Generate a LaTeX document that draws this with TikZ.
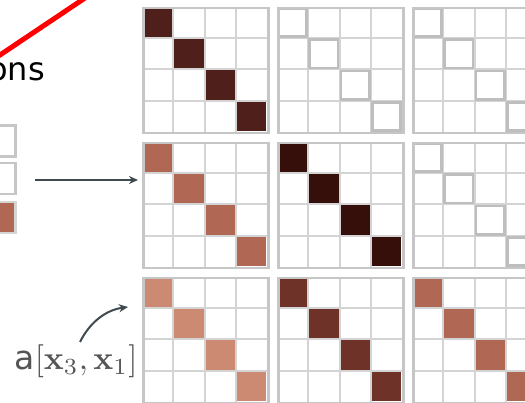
\documentclass[tikz,border=0pt]{standalone}
\usepackage[no-math]{fontspec}
\setmainfont{DejaVu Sans}
\usetikzlibrary{arrows.meta}
\definecolor{gl}{HTML}{D4D4D4}
\definecolor{gb}{HTML}{C6C6C6}
\definecolor{hb}{HTML}{BEBEBE}
\definecolor{cA}{HTML}{4F201B}
\definecolor{cB}{HTML}{B06753}
\definecolor{cC}{HTML}{360E0A}
\definecolor{cD}{HTML}{CC8A72}
\definecolor{cE}{HTML}{6E3229}
\definecolor{arr}{HTML}{3F4A4F}
\definecolor{labc}{HTML}{555555}
\tikzset{
  gridbox/.style={draw=gb, line width=2.5pt, minimum size=125pt, inner sep=0pt, anchor=north west},
  leftbox/.style={draw=gb, line width=2.5pt, minimum size=31pt, inner sep=0pt},
  gline/.style={draw=gl, line width=2pt},
  hollow/.style={draw=hb, line width=2.8pt},
  pointer/.style={draw=arr, line width=2.6pt, -{Stealth[length=9pt,width=8pt]}},
}
\begin{document}
\begin{tikzpicture}[x=1pt,y=-1pt]
\useasboundingbox (0,0) rectangle (525,403);
\clip (0,0) rectangle (525,403);
% grid lines
\foreach \gx/\gy in {142/7,277/7,412/7,142/142,277/142,412/142,142/277,277/277,412/277}{
  \foreach \i in {1,2,3}{
    \draw[gline] (\gx+\i*31.25,\gy) -- ++(0,125);
    \draw[gline] (\gx,\gy+\i*31.25) -- ++(125,0);
  }
}
% filled diagonals
\foreach \gx/\gy/\fc in {142/7/cA,142/142/cB,277/142/cC,142/277/cD,277/277/cE,412/277/cB}{
  \foreach \i in {0,1,2,3}{
    \fill[\fc] (\gx+\i*31.25+1,\gy+\i*31.25+1) rectangle ++(29.25,29.25);
  }
}
% hollow diagonals
\foreach \gx/\gy in {277/7,412/7,412/142}{
  \foreach \i in {0,1,2,3}{
    \draw[hollow] (\gx+\i*31.25+1.5,\gy+\i*31.25+1.5) rectangle ++(28.25,28.25);
  }
}
% outer borders
\node[gridbox] (g11) at (142,7) {};
\node[gridbox] (g12) at (277,7) {};
\node[gridbox] (g13) at (412,7) {};
\node[gridbox] (g21) at (142,142) {};
\node[gridbox] (g22) at (277,142) {};
\node[gridbox] (g23) at (412,142) {};
\node[gridbox] (g31) at (142,277) {};
\node[gridbox] (g32) at (277,277) {};
\node[gridbox] (g33) at (412,277) {};
% left boxes
\node[leftbox] (b1) at (0,141) {};
\node[leftbox] (b2) at (0,178.5) {};
\node[leftbox, fill=cB, draw=gl] (b3) at (0,217.5) {};
% red line
\draw[red, line width=5pt] (-6,59) -- (88,-4);
% text
\node[anchor=base east, inner sep=0pt, font=\fontsize{32}{36}\selectfont] (ons) at (45,81) {ons};
% arrow into middle-left grid
\coordinate (a0) at (35,180);
\draw[pointer, shorten >=4pt] (a0) -- (a0 -| g21.west);
% label and curved pointer
\node[anchor=base, inner sep=0pt, scale=3.3, text=labc, font=\fontsize{10}{12}\selectfont] (lab) at (76,370) {a$[\mathbf{x}_3,\mathbf{x}_1]$};
\coordinate (c0) at (80,342);
\coordinate (c1) at (128,307);
\draw[draw=arr, line width=2pt, -{Stealth[length=9pt,width=8pt]}] (c0) .. controls (90,322) and (106,310) .. (c1);
\end{tikzpicture}
\end{document}
